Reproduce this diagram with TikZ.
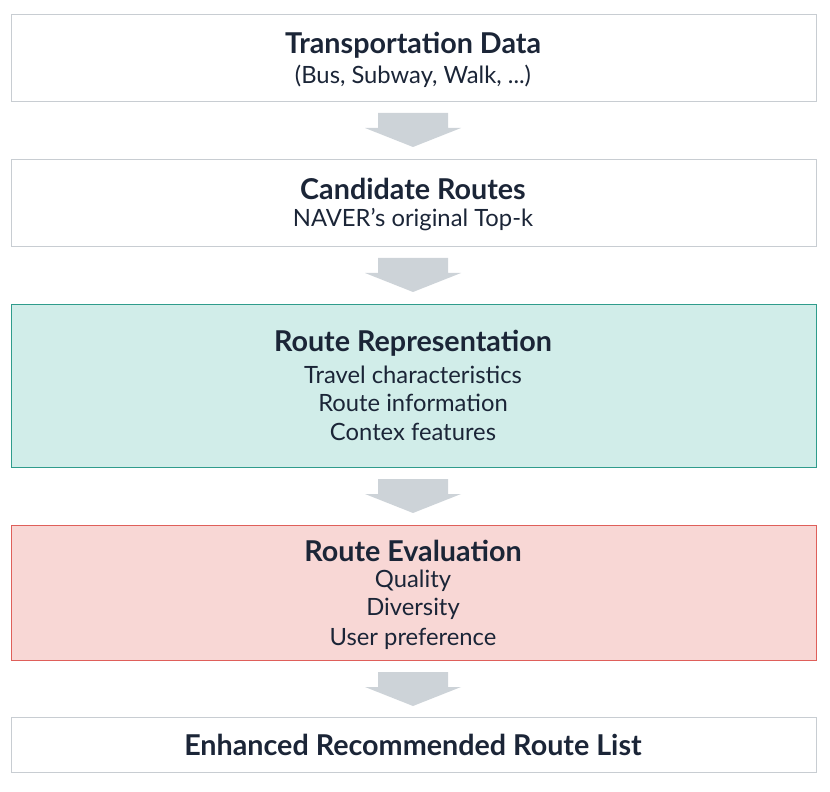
\documentclass[tikz,border=0pt]{standalone}
\usepackage{fontspec}
\setmainfont{Lato}
\begin{document}
\begin{tikzpicture}[x=0.03cm,y=-0.03cm,
  box/.style={draw=#1,line width=0.8pt},
  ttl/.style={font=\fontsize{24.5}{28}\selectfont\bfseries,text=navy,inner sep=0},
  txt/.style={font=\fontsize{20.3}{24}\selectfont,text=navy,inner sep=0},
  arr/.style={fill=arrgray,draw=none}]
\definecolor{navy}{HTML}{1B2537}
\definecolor{bgray}{HTML}{C8CDD2}
\definecolor{arrgray}{HTML}{CDD3D8}
\definecolor{tealfill}{HTML}{D1EDE9}
\definecolor{tealdraw}{HTML}{2F9C8C}
\definecolor{redfill}{HTML}{F8D7D5}
\definecolor{reddraw}{HTML}{DF5F5A}
\useasboundingbox (0,0) rectangle (830,792);
\draw[box=bgray] (11,14) rectangle (816,101);
\draw[box=bgray] (11,159) rectangle (816,246);
\draw[box=tealdraw,fill=tealfill] (11,304) rectangle (816,467);
\draw[box=reddraw,fill=redfill] (11,525) rectangle (816,660);
\draw[box=bgray] (11,717) rectangle (816,772);
\foreach \t in {113,258,479,672}{
  \fill[arr] (378,\t) -- (448,\t) -- (448,\t+15) -- (461,\t+15) -- (413,\t+34) -- (365,\t+15) -- (378,\t+15) -- cycle;}
\node[ttl] (t1) at (413,45) {Transportation Data};
\node[txt] (s1) at (413,76) {(Bus, Subway, Walk, ...)};
\node[ttl] (t2) at (413,189) {Candidate Routes};
\node[txt] (s2) at (413,220) {NAVER’s original Top-k};
\node[ttl] (t3) at (413,343) {Route Representation};
\node[txt] (s3a) at (413,375) {Travel characteristics};
\node[txt] (s3b) at (413,403) {Route information};
\node[txt] (s3c) at (413,432) {Contex features};
\node[ttl] (t4) at (413,551) {Route Evaluation};
\node[txt] (s4a) at (413,581) {Quality};
\node[txt] (s4b) at (413,609) {Diversity};
\node[txt] (s4c) at (413,639) {User preference};
\node[ttl] (t5) at (413,745) {Enhanced Recommended Route List};
\end{tikzpicture}
\end{document}
